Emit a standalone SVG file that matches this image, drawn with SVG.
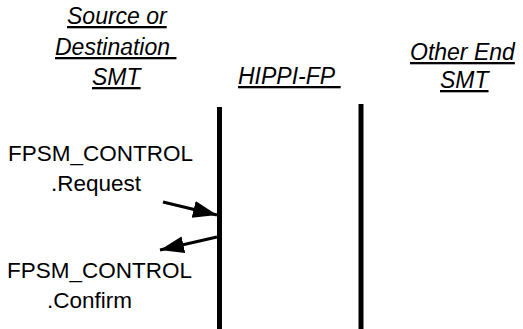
<svg xmlns="http://www.w3.org/2000/svg" width="523" height="329" viewBox="0 0 523 329">
  <style>
    .hdr { font-family: "Liberation Sans", Arial, sans-serif; font-style: italic; font-size: 23px; fill: #000; text-decoration: underline; }
    .lbl { font-family: "Liberation Sans", Arial, sans-serif; font-size: 22.5px; fill: #000; }
    .life { stroke: #000; stroke-width: 5; fill: none; }
    .msg { stroke: #000; stroke-width: 3; fill: none; marker-end: url(#ah); }
  </style>
  <defs>
    <marker id="ah" markerUnits="userSpaceOnUse" markerWidth="26" markerHeight="20" refX="24" refY="8.5" orient="auto">
      <path d="M0,0 L24,8.5 L0,17 Z" fill="#000"/>
    </marker>
  </defs>
  <rect width="523" height="329" fill="#fff"/>

  <g id="source-smt">
    <text class="hdr" x="67" y="24">Source or</text>
    <text class="hdr" x="55" y="55" xml:space="preserve">Destination </text>
    <text class="hdr" x="92" y="85">SMT</text>
    <line class="life" x1="219.5" y1="107" x2="219.5" y2="329"/>
  </g>

  <g id="hippi-fp">
    <text class="hdr" x="238" y="84" xml:space="preserve">HIPPI-FP </text>
    <line class="life" x1="361" y1="104" x2="361" y2="329"/>
  </g>

  <g id="other-end-smt">
    <text class="hdr" x="410" y="60">Other End</text>
    <text class="hdr" x="440" y="88">SMT</text>
  </g>

  <g id="request-label">
    <text class="lbl" x="8" y="161">FPSM_CONTROL</text>
    <text class="lbl" x="51" y="191">.Request</text>
  </g>

  <g id="confirm-label">
    <text class="lbl" x="7" y="278">FPSM_CONTROL</text>
    <text class="lbl" x="47" y="308">.Confirm</text>
  </g>

  <g id="connectors">
    <line class="msg" x1="163" y1="202" x2="217" y2="215"/>
    <line class="msg" x1="217" y1="237" x2="160" y2="250"/>
  </g>
</svg>
